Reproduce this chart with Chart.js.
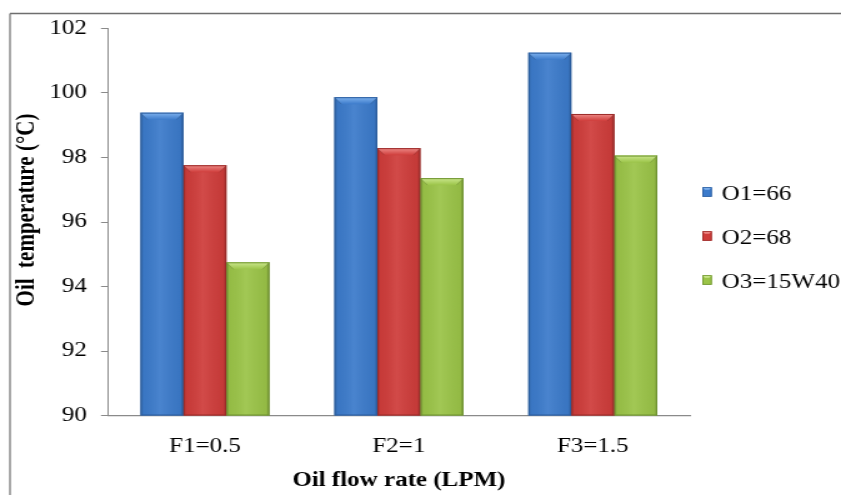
<!DOCTYPE html>
<html>
<head>
<meta charset="utf-8">
<script src="https://cdn.jsdelivr.net/npm/chart.js@4.4.1/dist/chart.umd.min.js"></script>
<style>
  html, body { margin: 0; padding: 0; background: #fff; overflow: hidden; }
</style>
</head>
<body>
<!-- the drawing surface is 673 px wide and shown 841 px wide: text and marks come out wide, as in the original figure -->
<canvas id="chart" width="673" height="495" style="display:block;width:841px;height:495px"></canvas>
<script>
// ---- data ----
const categories = ['F1=0.5', 'F2=1', 'F3=1.5'];
const seriesNames = ['O1=66', 'O2=68', 'O3=15W40'];
const o1Values = [99.39, 99.87, 101.25];
const o2Values = [97.76, 98.29, 99.35];
const o3Values = [94.75, 97.36, 98.06];
const yTickValues = [90, 92, 94, 96, 98, 100, 102];
const xAxisTitle = 'Oil flow rate (LPM)';
const yAxisTitle = 'Oil  temperature (\u00B0C)';

// ---- styling ----
const FONT = "'Liberation Serif', 'Times New Roman', serif";
const baseColors = ['#3c7bcb', '#cf3d3b', '#9bc448'];
const edgeColors = ['#2b5d9e', '#9a2b29', '#6f9431'];
const topColors  = ['#7fb2ee', '#ee8b88', '#cbe78e'];
const AXIS_GREY = '#8a8a8a';

// white page, with the thin frame lines along the top and left
const framePlugin = {
  id: 'frame',
  beforeDraw(chart) {
    const ctx = chart.ctx;
    ctx.save();
    ctx.fillStyle = '#fff';
    ctx.fillRect(0, 0, chart.width, chart.height);
    ctx.strokeStyle = '#6e6e6e';
    ctx.lineWidth = 1.5;
    ctx.beginPath();
    ctx.moveTo(8, 13.5);
    ctx.lineTo(chart.width, 13.5);
    ctx.stroke();
    ctx.lineWidth = 1.2;
    ctx.beginPath();
    ctx.moveTo(8, 13.5);
    ctx.lineTo(8, chart.height);
    ctx.stroke();
    ctx.restore();
  }
};

// bevelled, shaded look laid over each bar the library has placed
const bevelPlugin = {
  id: 'bevel',
  afterDatasetsDraw(chart) {
    const ctx = chart.ctx;
    const area = chart.chartArea;
    chart.data.datasets.forEach((ds, i) => {
      const meta = chart.getDatasetMeta(i);
      meta.data.forEach(el => {
        const p = el.getProps(['x', 'y', 'base', 'width'], true);
        const L = p.x - p.width / 2, R = p.x + p.width / 2;
        const T = Math.max(Math.min(p.y, p.base), area.top);
        const B = Math.min(Math.max(p.y, p.base), area.bottom);
        const bw = 5.6, bh = 7;
        ctx.save();
        // sideways shading
        const g = ctx.createLinearGradient(L, 0, R, 0);
        g.addColorStop(0, 'rgba(0,0,0,0.22)');
        g.addColorStop(0.07, 'rgba(0,0,0,0.04)');
        g.addColorStop(0.45, 'rgba(255,255,255,0.07)');
        g.addColorStop(0.93, 'rgba(0,0,0,0.05)');
        g.addColorStop(1, 'rgba(0,0,0,0.28)');
        ctx.fillStyle = g;
        ctx.fillRect(L, T, R - L, B - T);
        // top bevel
        const tg = ctx.createLinearGradient(0, T, 0, T + bh);
        tg.addColorStop(0, topColors[i]);
        tg.addColorStop(1, baseColors[i]);
        ctx.fillStyle = tg;
        ctx.beginPath();
        ctx.moveTo(L, T);
        ctx.lineTo(R, T);
        ctx.lineTo(R - bw, T + bh);
        ctx.lineTo(L + bw, T + bh);
        ctx.closePath();
        ctx.fill();
        // bevel corners
        ctx.strokeStyle = 'rgba(0,0,0,0.18)';
        ctx.lineWidth = 0.8;
        ctx.beginPath();
        ctx.moveTo(L, T); ctx.lineTo(L + bw, T + bh);
        ctx.moveTo(R, T); ctx.lineTo(R - bw, T + bh);
        ctx.stroke();
        // outline
        ctx.strokeStyle = edgeColors[i];
        ctx.lineWidth = 1;
        ctx.strokeRect(L + 0.5, T + 0.5, R - L - 1, B - T - 1);
        ctx.restore();
      });
    });
  }
};

// rotated value-axis title
const yTitlePlugin = {
  id: 'yTitle',
  afterDraw(chart) {
    const ctx = chart.ctx;
    ctx.save();
    ctx.translate(21.6, 210);
    ctx.rotate(-Math.PI / 2);
    ctx.font = "bold 21px " + FONT;
    ctx.fillStyle = '#000';
    ctx.textAlign = 'center';
    ctx.textBaseline = 'middle';
    ctx.fillText(yAxisTitle, 0, 0);
    ctx.restore();
  }
};

// series key to the right of the plot
const keyPlugin = {
  id: 'key',
  afterDraw(chart) {
    const ctx = chart.ctx;
    const x0 = 562, tx = 577.6, y0 = 193.5, step = 44;
    ctx.save();
    ctx.font = "20px " + FONT;
    ctx.textBaseline = 'middle';
    ctx.textAlign = 'left';
    chart.data.datasets.forEach((ds, i) => {
      const cy = y0 + i * step;
      const s = 7.6, h = 9.5;
      const top = cy - h / 2 - 1.5;
      ctx.fillStyle = baseColors[i];
      ctx.fillRect(x0, top, s, h);
      ctx.fillStyle = topColors[i];
      ctx.beginPath();
      ctx.moveTo(x0, top); ctx.lineTo(x0 + s, top);
      ctx.lineTo(x0 + s - 2, top + 2.5); ctx.lineTo(x0 + 2, top + 2.5);
      ctx.closePath(); ctx.fill();
      ctx.strokeStyle = edgeColors[i];
      ctx.lineWidth = 0.8;
      ctx.strokeRect(x0 + 0.4, top + 0.4, s - 0.8, h - 0.8);
      ctx.fillStyle = '#000';
      ctx.fillText(ds.label, tx, cy + 1);
    });
    ctx.restore();
  }
};

const seriesValues = [o1Values, o2Values, o3Values];

new Chart(document.getElementById('chart'), {
  type: 'bar',
  data: {
    labels: categories,
    datasets: seriesNames.map((name, i) => ({
      label: name,
      data: seriesValues[i],
      backgroundColor: baseColors[i],
      borderWidth: 0,
      categoryPercentage: 0.665,
      barPercentage: 1.0
    }))
  },
  options: {
    responsive: false,
    devicePixelRatio: 1,
    animation: false,
    layout: { padding: { left: 0, top: 28.5, right: 121, bottom: 0 } },
    plugins: {
      legend: { display: false },
      tooltip: { enabled: false },
      title: { display: false }
    },
    scales: {
      x: {
        grid: { display: false, drawTicks: false },
        border: { display: true, color: AXIS_GREY, width: 1.2 },
        ticks: { color: '#000', font: { family: FONT, size: 20 }, padding: 19.5, maxRotation: 0 },
        title: {
          display: true, text: xAxisTitle, color: '#000',
          font: { family: FONT, size: 20, weight: 'bold' },
          padding: { top: 0, bottom: 2 }
        },
        afterFit(scale) { scale.height = 79.5; }
      },
      y: {
        min: 90, max: 102,
        afterBuildTicks(scale) { scale.ticks = yTickValues.map(v => ({ value: v })); },
        grid: { drawOnChartArea: false, drawTicks: true, tickLength: 5.6, color: AXIS_GREY, lineWidth: 1 },
        border: { display: true, color: AXIS_GREY, width: 1 },
        ticks: { color: '#000', font: { family: FONT, size: 20 }, padding: 11.2 },
        title: { display: false },
        afterFit(scale) { scale.width = 86.4; }
      }
    }
  },
  plugins: [framePlugin, bevelPlugin, yTitlePlugin, keyPlugin]
});
</script>
</body>
</html>
